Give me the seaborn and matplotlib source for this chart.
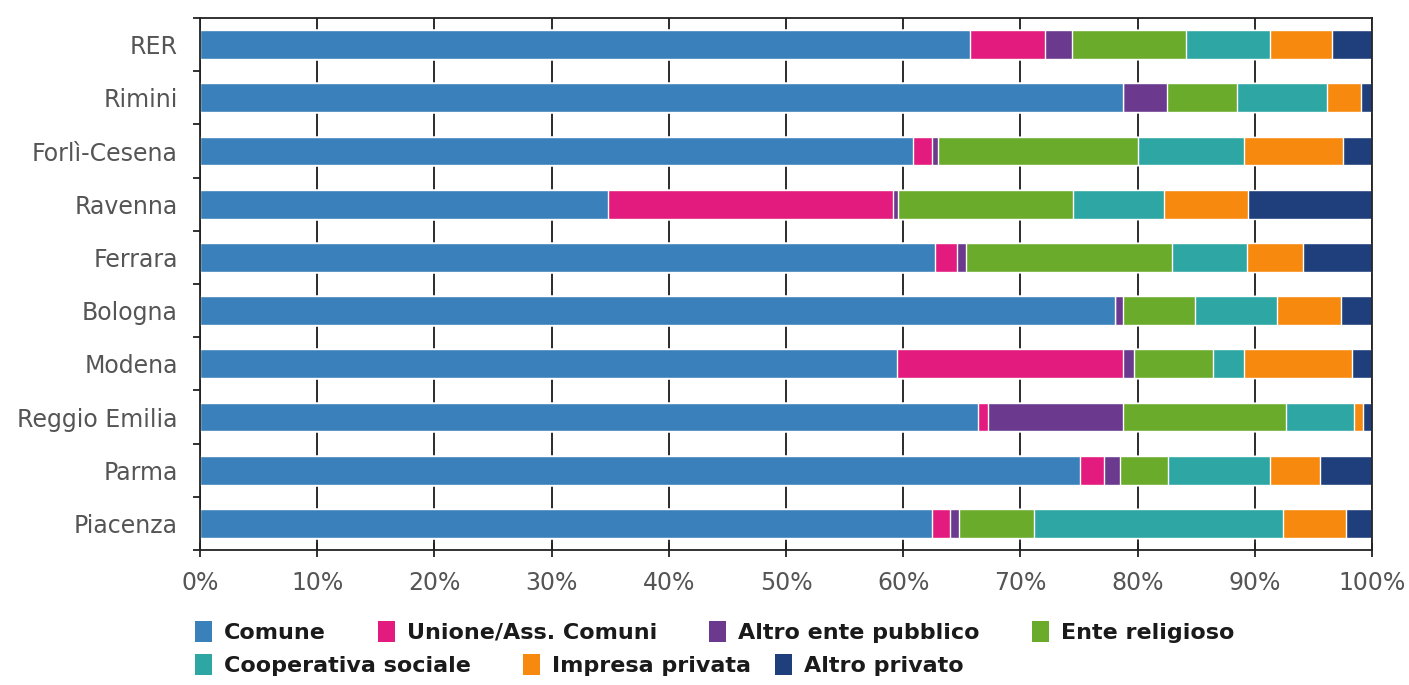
import pandas as pd
import numpy as np
import seaborn as sns
import matplotlib.pyplot as plt
from matplotlib.patches import Patch

# categories (top to bottom)
regions = ['RER', 'Rimini', 'Forlì-Cesena', 'Ravenna', 'Ferrara', 'Bologna',
           'Modena', 'Reggio Emilia', 'Parma', 'Piacenza']

# share of each owner type, %
comune = [65.7, 78.8, 60.8, 34.8, 62.7, 78.1, 59.5, 66.4, 75.1, 62.5]
unione = [6.4, 0.0, 1.7, 24.3, 1.9, 0.0, 19.3, 0.8, 2.0, 1.5]
altro_pubblico = [2.3, 3.7, 0.5, 0.5, 0.8, 0.7, 0.9, 11.6, 1.4, 0.8]
religioso = [9.7, 6.0, 17.0, 14.9, 17.5, 6.1, 6.7, 13.9, 4.1, 6.4]
cooperativa = [7.2, 7.7, 9.1, 7.8, 6.4, 7.0, 2.7, 5.8, 8.7, 21.2]
impresa = [5.3, 2.9, 8.4, 7.1, 4.8, 5.5, 9.2, 0.7, 4.3, 5.4]
altro_privato = [3.4, 0.9, 2.5, 10.6, 5.9, 2.6, 1.7, 0.8, 4.4, 2.2]

series = ['Comune', 'Unione/Ass. Comuni', 'Altro ente pubblico', 'Ente religioso',
          'Cooperativa sociale', 'Impresa privata', 'Altro privato']
colors = ['#3a80ba', '#e31b7f', '#6b3a8e', '#6aab2c', '#2ea6a4', '#f7890f', '#1f3f7c']

df = pd.DataFrame({'Regione': regions, 'Comune': comune, 'Unione/Ass. Comuni': unione,
                   'Altro ente pubblico': altro_pubblico, 'Ente religioso': religioso,
                   'Cooperativa sociale': cooperativa, 'Impresa privata': impresa,
                   'Altro privato': altro_privato})
cum = df[series].cumsum(axis=1)
cum['Regione'] = df['Regione']

sns.set_style('white')
plt.rcParams['font.family'] = ['DejaVu Sans']

fig = plt.figure(figsize=(14.09, 6.85), dpi=100)
ax = fig.add_axes([0.1419, 0.197, 0.8318, 0.7767])

# stacked bars: draw cumulative totals from the last series back to the first
for name, col in reversed(list(zip(series, colors))):
    sns.barplot(data=cum, x=name, y='Regione', color=col, width=0.54,
                saturation=1, orient='h', ax=ax, zorder=2)

ax.set_xlim(0, 100)
ax.set_ylim(9.5, -0.5)
ax.set_xticks(np.arange(0, 101, 10))
ax.set_xticklabels([f'{v}%' for v in range(0, 101, 10)])
ax.set_xlabel('')
ax.set_ylabel('')
ax.set_axisbelow(True)
ax.grid(axis='x', color='#1a1a1a', lw=1.3)
ax.grid(axis='y', visible=False)
for s in ax.spines.values():
    s.set_color('#222222')
    s.set_linewidth(1.3)
    s.set_visible(True)

ax.set_yticks(np.arange(-0.5, 10, 1), minor=True)
ax.tick_params(axis='y', which='major', length=0, pad=16, labelsize=17, labelcolor='#555555')
ax.tick_params(axis='y', which='minor', length=5, width=1.3, color='#222222', left=True)
ax.tick_params(axis='x', which='major', direction='inout', length=10, width=1.3,
               color='#222222', pad=10, labelsize=17, labelcolor='#555555', bottom=True)

handles = [Patch(facecolor=c, edgecolor='none') for c in colors]
leg_kw = dict(frameon=False, handlelength=0.75, handleheight=1.05, handletextpad=0.55,
              columnspacing=2.35, prop={'size': 16, 'weight': 'bold'}, borderpad=0,
              borderaxespad=0, loc='center left')
legs = [
    fig.legend(handles[:4], series[:4], ncol=4, bbox_to_anchor=(0.1384, 0.0774), **leg_kw),
    fig.legend(handles[4:6], series[4:6], ncol=2, bbox_to_anchor=(0.1384, 0.0292), **leg_kw),
    fig.legend(handles[6:], series[6:], ncol=1, bbox_to_anchor=(0.5500, 0.0292), **leg_kw),
]
for leg in legs:
    for t in leg.get_texts():
        t.set_color('#1a1a1a')

plt.savefig('out.png', dpi=100)
